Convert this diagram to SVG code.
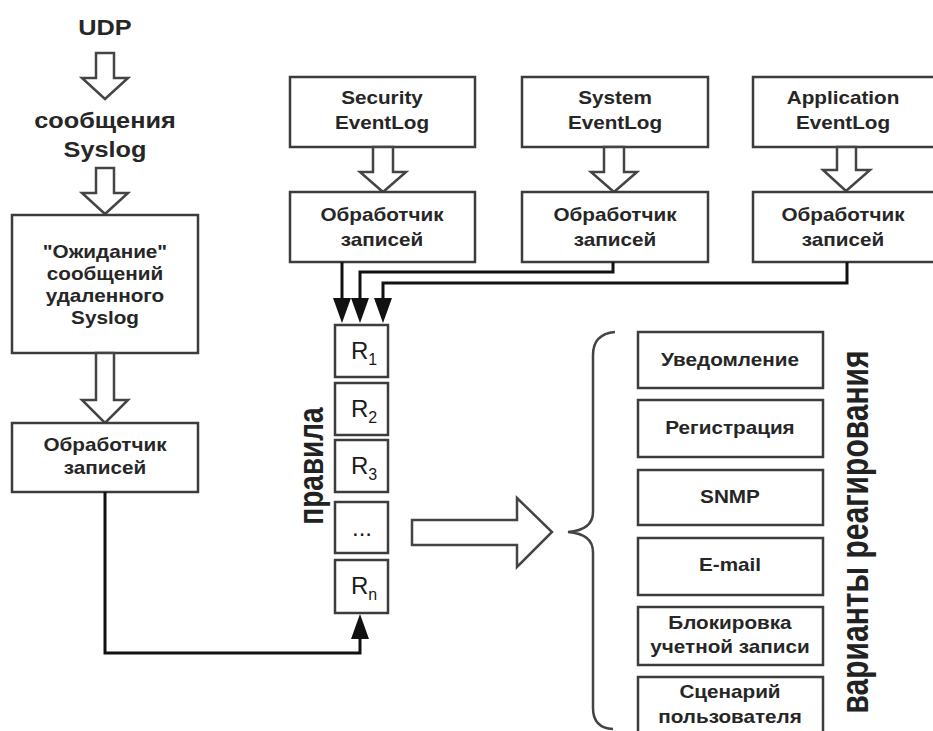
<svg xmlns="http://www.w3.org/2000/svg" width="933" height="731" viewBox="0 0 933 731">
<style>
.box{fill:#fff;stroke:#3c3c3c;stroke-width:2.5}
.harrow{fill:#fff;stroke:#444;stroke-width:2.5;stroke-linejoin:miter}
.t{font-family:"Liberation Sans",Arial,sans-serif;font-weight:bold;font-size:18px;fill:#262626;text-anchor:middle;transform-box:fill-box;transform-origin:center;transform:scaleX(1.15)}
.big{font-size:22px}
.r{font-family:"Liberation Sans",Arial,sans-serif;font-size:24px;fill:#1a1a1a;text-anchor:middle}
.rot{font-family:"Liberation Sans",Arial,sans-serif;font-weight:bold;fill:#222;text-anchor:middle}
.conn{fill:none;stroke:#111;stroke-width:3}
</style>
<defs>
<marker id="ah" markerUnits="userSpaceOnUse" markerWidth="26" markerHeight="18" refX="0" refY="9" orient="auto">
<path d="M0,0 L25,9 L0,18 z" fill="#111"/>
</marker>
</defs>
<rect width="933" height="731" fill="#fff"/>

<g id="udp"><text class="t big" x="105" y="35">UDP</text></g>
<g id="arrow-udp"><polygon class="harrow" points="96,53 114,53 114,78 128,78 105,99 82,78 96,78"/></g>
<g id="syslog-msgs"><text class="t big" x="105" y="128">сообщения</text><text class="t big" x="105" y="157">Syslog</text></g>
<g id="arrow-syslog"><polygon class="harrow" points="96,168 114,168 114,193 128,193 105,214 82,193 96,193"/></g>
<g id="wait">
<rect class="box" x="12" y="215" width="186" height="138"/>
<text class="t" x="105" y="258">"Ожидание"</text>
<text class="t" x="105" y="280">сообщений</text>
<text class="t" x="105" y="302">удаленного</text>
<text class="t" x="105" y="324">Syslog</text>
</g>
<g id="arrow-wait"><polygon class="harrow" points="96,353 114,353 114,400 128,400 105,423 82,400 96,400"/></g>
<g id="handler-syslog">
<rect class="box" x="12" y="423" width="186" height="69"/>
<text class="t" x="105" y="451">Обработчик</text>
<text class="t" x="105" y="474">записей</text>
</g>

<g id="security">
<rect class="box" x="290" y="77" width="185" height="70"/>
<text class="t" x="382" y="104">Security</text>
<text class="t" x="382" y="129">EventLog</text>
</g>
<g id="arrow-security"><polygon class="harrow" points="373,147 393,147 393,172 406,172 383,192 360,172 373,172"/></g>
<g id="handler-security">
<rect class="box" x="290" y="192" width="185" height="70"/>
<text class="t" x="382" y="221">Обработчик</text>
<text class="t" x="382" y="246">записей</text>
</g>

<g id="system">
<rect class="box" x="522" y="77" width="186" height="70"/>
<text class="t" x="615" y="104">System</text>
<text class="t" x="615" y="129">EventLog</text>
</g>
<g id="arrow-system"><polygon class="harrow" points="604,147 624,147 624,172 637,172 614,192 591,172 604,172"/></g>
<g id="handler-system">
<rect class="box" x="522" y="192" width="186" height="70"/>
<text class="t" x="615" y="221">Обработчик</text>
<text class="t" x="615" y="246">записей</text>
</g>

<g id="application">
<rect class="box" x="753" y="77" width="190" height="70"/>
<text class="t" x="843" y="104">Application</text>
<text class="t" x="843" y="129">EventLog</text>
</g>
<g id="arrow-application"><polygon class="harrow" points="837,147 856,147 856,170 870,170 846,191 823,170 837,170"/></g>
<g id="handler-application">
<rect class="box" x="753" y="192" width="190" height="70"/>
<text class="t" x="843" y="221">Обработчик</text>
<text class="t" x="843" y="246">записей</text>
</g>

<g id="rules">
<rect class="box" x="335" y="325" width="53" height="52"/>
<text class="r" x="364" y="359">R<tspan font-size="16" dy="6">1</tspan></text>
<rect class="box" x="335" y="383" width="53" height="52"/>
<text class="r" x="364" y="417">R<tspan font-size="16" dy="6">2</tspan></text>
<rect class="box" x="335" y="440" width="53" height="52"/>
<text class="r" x="364" y="474">R<tspan font-size="16" dy="6">3</tspan></text>
<rect class="box" x="335" y="502" width="53" height="51"/>
<text class="r" x="362" y="536" font-size="15" fill="#777">...</text>
<rect class="box" x="335" y="560" width="53" height="53"/>
<text class="r" x="364" y="594">R<tspan font-size="16" dy="6">n</tspan></text>
</g>
<g id="rules-label"><text class="rot" font-size="28" transform="translate(323,466) rotate(-90) scale(1,1.22)">правила</text></g>

<g id="big-arrow"><polygon class="harrow" points="412,520 517,520 517,498 552,532 517,567 517,545 412,545"/></g>
<g id="brace"><path d="M615,332 Q593,334 593,355 L593,512 Q593,530 568,532 Q593,534 593,552 L593,708 Q593,728 613,729" fill="none" stroke="#444" stroke-width="2.5"/></g>

<g id="notify"><rect class="box" x="638" y="332" width="185" height="56"/><text class="t" x="730" y="366">Уведомление</text></g>
<g id="register"><rect class="box" x="638" y="400" width="185" height="57"/><text class="t" x="730" y="434">Регистрация</text></g>
<g id="snmp"><rect class="box" x="638" y="470" width="185" height="55"/><text class="t" x="730" y="503">SNMP</text></g>
<g id="email"><rect class="box" x="638" y="538" width="185" height="57"/><text class="t" x="730" y="571">E-mail</text></g>
<g id="block"><rect class="box" x="638" y="607" width="185" height="58"/><text class="t" x="730" y="629">Блокировка</text><text class="t" x="730" y="653">учетной записи</text></g>
<g id="script"><rect class="box" x="638" y="677" width="185" height="62"/><text class="t" x="730" y="698">Сценарий</text><text class="t" x="730" y="723">пользователя</text></g>
<g id="reactions-label"><text class="rot" font-size="30" transform="translate(868,532) rotate(-90) scale(1,1.3)">варианты реагирования</text></g>

<g id="connectors">
<path class="conn" d="M342,262 L342,298" marker-end="url(#ah)"/>
<path class="conn" d="M613,262 L613,272 L360,272 L360,298" marker-end="url(#ah)"/>
<path class="conn" d="M847,262 L847,283 L383,283 L383,298" marker-end="url(#ah)"/>
<path class="conn" d="M105,492 L105,653 L360,653 L360,639" marker-end="url(#ah)"/>
</g>
</svg>
